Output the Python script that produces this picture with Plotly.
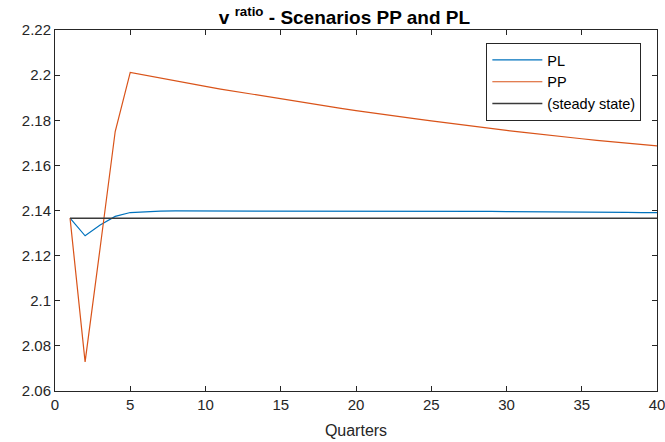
import plotly.graph_objects as go

quarters = list(range(1, 41))

pl_values = [2.1366, 2.1288, 2.1336, 2.1374, 2.1391, 2.1395, 2.1397, 2.1398, 2.1398, 2.1399,
             2.1399, 2.1399, 2.1399, 2.1399, 2.1399, 2.1399, 2.1399, 2.1399, 2.1399, 2.1399,
             2.1399, 2.1398, 2.1398, 2.1398, 2.1397, 2.1397, 2.1397, 2.1396, 2.1396, 2.1395,
             2.1395, 2.1394, 2.1394, 2.1394, 2.1393, 2.1393, 2.1392, 2.1392, 2.1391, 2.1391]

pp_values = [2.1366, 2.0729, 2.1235, 2.1750, 2.2012, 2.1999, 2.1986, 2.1974, 2.1962, 2.1950,
             2.1938, 2.1927, 2.1916, 2.1905, 2.1894, 2.1883, 2.1873, 2.1863, 2.1853, 2.1843,
             2.1833, 2.1824, 2.1815, 2.1806, 2.1797, 2.1788, 2.1780, 2.1771, 2.1763, 2.1755,
             2.1747, 2.1739, 2.1732, 2.1725, 2.1718, 2.1711, 2.1704, 2.1698, 2.1692, 2.1686]

steady_state = [2.1366] * 40

x_ticks = [0, 5, 10, 15, 20, 25, 30, 35, 40]
y_ticks = [2.06, 2.08, 2.10, 2.12, 2.14, 2.16, 2.18, 2.20, 2.22]
y_tick_labels = ["2.06", "2.08", "2.1", "2.12", "2.14", "2.16", "2.18", "2.2", "2.22"]

FONT = "Liberation Sans, Arial, sans-serif"

fig = go.Figure()
fig.add_trace(go.Scatter(x=quarters, y=pl_values, mode="lines", name="PL",
                         line=dict(color="#0072BD", width=1.2)))
fig.add_trace(go.Scatter(x=quarters, y=pp_values, mode="lines", name="PP",
                         line=dict(color="#D95319", width=1.2)))
fig.add_trace(go.Scatter(x=quarters, y=steady_state, mode="lines", name="(steady state)",
                         line=dict(color="#3a3a3a", width=1.5)))

axis_common = dict(
    showgrid=False, zeroline=False, showline=True, linecolor="#262626", linewidth=1,
    mirror="ticks", ticks="inside", ticklen=5, tickcolor="#262626", tickwidth=1,
    tickfont=dict(family=FONT, size=15, color="#262626"), automargin=False,
    ticklabeloverflow="allow",
)

fig.update_layout(
    template="none",
    width=665, height=442,
    margin=dict(l=55, r=8, t=30, b=51),
    paper_bgcolor="white", plot_bgcolor="white",
    title=dict(text="<b>v <sup>ratio</sup> - Scenarios PP and PL</b>",
               x=0.518, xanchor="center", y=0.975, yanchor="top",
               font=dict(family=FONT, size=19, color="black")),
    xaxis=dict(range=[0, 40], tickvals=x_ticks,
               title=dict(text="Quarters", font=dict(family=FONT, size=16, color="#262626"), standoff=12),
               **axis_common),
    yaxis=dict(range=[2.06, 2.22], tickvals=y_ticks, ticktext=y_tick_labels, **axis_common),
    legend=dict(x=0.974, y=0.964, xanchor="right", yanchor="top",
                bgcolor="white", bordercolor="#262626", borderwidth=1,
                font=dict(family=FONT, size=14.5, color="black"),
                tracegroupgap=0, itemwidth=50),
    showlegend=True,
)

fig.write_html("out.html", config={"displayModeBar": False},
               post_script="document.body.style.margin='0';document.body.style.padding='0';")
